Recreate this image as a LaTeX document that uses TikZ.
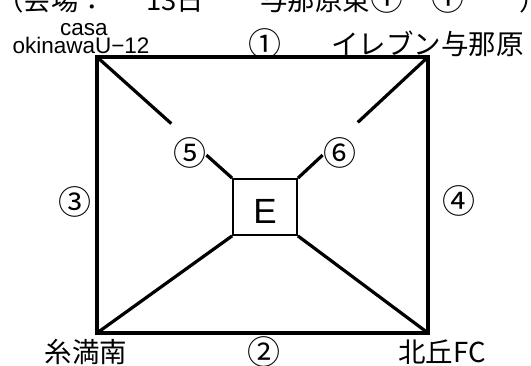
\documentclass[tikz,border=0pt]{standalone}
\usepackage{fontspec}
\usetikzlibrary{calc}
\setmainfont{Noto Sans CJK JP}
\newfontfamily\latinfont{Liberation Sans}
\begin{document}
\begin{tikzpicture}[x=1pt,y=-1pt,
  jp/.style={inner sep=0pt,font=\fontsize{27.5}{27.5}\selectfont},
  circ/.style={inner sep=0pt,font=\fontsize{33}{33}\selectfont},
  lat/.style={inner sep=0pt,anchor=base,font=\latinfont\fontsize{22.5}{22.5}\selectfont},
  edge/.style={line width=3.2pt,line cap=rect},
  diag/.style={line width=3.2pt},
  centerbox/.style={draw,line width=1.8pt,minimum width=64pt,minimum height=56pt,inner sep=0pt,
     text height=32pt,text depth=0pt,font=\latinfont\fontsize{35}{35}\selectfont}]
\useasboundingbox (0,0) rectangle (531,365);
% cut-off heading
\node[jp,anchor=base west] (h1) at (-4,10) {（会場：};
\node[jp,anchor=base west] (h2) at (146,10) {13日};
\node[jp,anchor=base west] (h3) at (260,10) {与那原東\fontsize{33}{33}\selectfont ①};
\node[circ,anchor=base west] (h4) at (431,10) {①};
\node[jp,anchor=base west] (h5) at (519,10) {）};
% corners
\coordinate (TL) at (97,57);
\coordinate (TR) at (428,57);
\coordinate (BL) at (97,333);
\coordinate (BR) at (428,333);
% centre box
\node[centerbox] (E) at (265,207) {E};
% outer rectangle
\draw[edge] (TL) -- (TR) -- (BR) -- (BL) -- cycle;
% diagonals
\coordinate (g5a) at ($(TL)!0.55!(E.north west)$);
\coordinate (g5b) at ($(TL)!0.81!(E.north west)$);
\coordinate (g6a) at ($(TR)!0.54!(E.north east)$);
\coordinate (g6b) at ($(TR)!0.81!(E.north east)$);
\draw[diag] (TL) -- (g5a);
\draw[diag] (g5b) -- (E.north west);
\draw[diag] (TR) -- (g6a);
\draw[diag] (g6b) -- (E.north east);
\draw[diag] (BL) -- (E.south west);
\draw[diag] (BR) -- (E.south east);
% labels
\node[lat] (casa) at (84,35.2) {casa};
\node[lat] (oki) at (81,53.5) {okinawaU−12};
\node[circ] (n1) at (265,44) {①};
\node[jp,anchor=west] (eleven) at (331,44) {イレブン与那原};
\node[circ] (n3) at (75,202) {③};
\node[circ] (n4) at (459,201) {④};
\node[circ] (n5) at (190,153) {⑤};
\node[circ] (n6) at (340,153) {⑥};
\node[jp] (itoman) at (86,352) {糸満南};
\node[circ] (n2) at (264,352) {②};
\node[jp] (kita) at (442,352) {北丘FC};
\end{tikzpicture}
\end{document}
